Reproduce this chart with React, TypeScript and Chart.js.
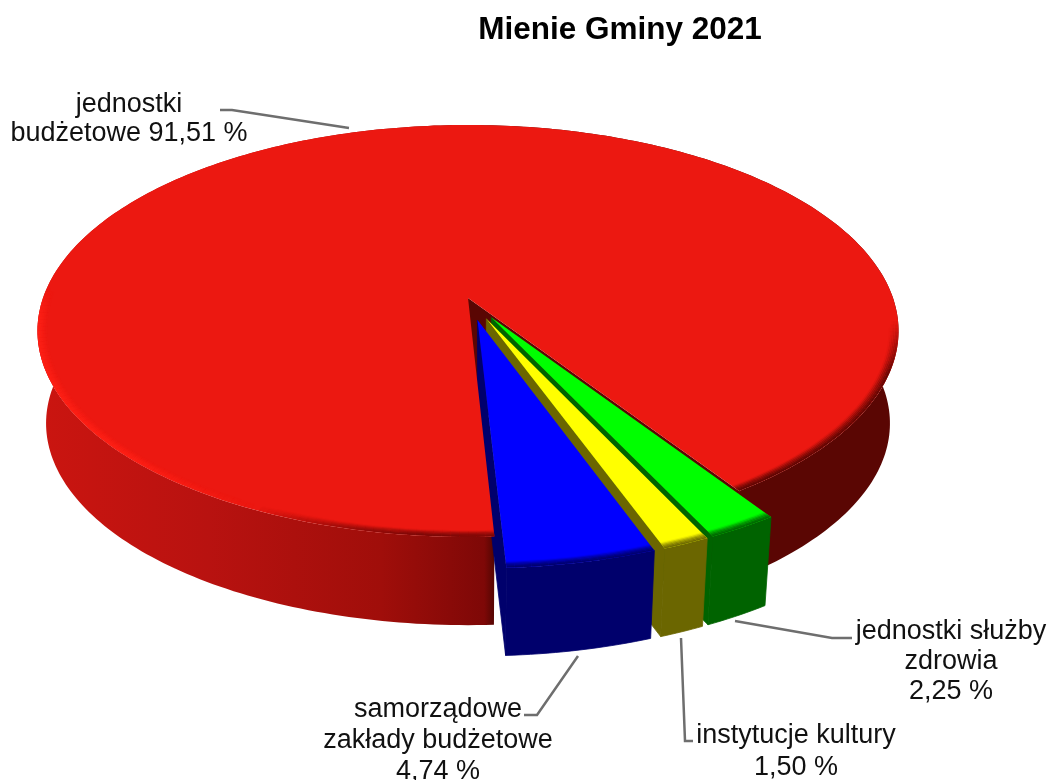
import React, { useEffect, useRef } from "react";
import { Chart, registerables } from "chart.js";

Chart.register(...registerables);

const categories = ["jednostki budżetowe", "jednostki służby zdrowia", "instytucje kultury", "samorządowe zakłady budżetowe"];
const shares = [91.51, 2.25, 1.5, 4.74];
const topColors = ["#ec1811", "#00ff00", "#ffff00", "#0000ff"];
const wallColors = ["#5a0603", "#006300", "#6b6600", "#00006c"];
const exploded = [0, 0.11, 0.11, 0.11];
const labelLines = [
  ["jednostki", "budżetowe {v}"],
  ["jednostki służby", "zdrowia", "{v}"],
  ["instytucje kultury", "{v}"],
  ["samorządowe", "zakłady budżetowe", "{v}"],
];
const title = "Mienie Gminy 2021";

const view = { cx: 468, cy: 298, A: 425, B: 200.7, k: 0.16, D: 93, s: 0.98 };

function project(u: number, v: number, level: number) {
  const w = 1 - view.k * v;
  const sc = level ? view.s : 1;
  return {
    x: view.cx + (view.A * sc * u) / w,
    y: view.cy + level * view.D + (view.B * sc * v) / w,
  };
}

function fillPoly(ctx: CanvasRenderingContext2D, pts: { x: number; y: number }[], fill: any, seal = false) {
  ctx.beginPath();
  pts.forEach((p, i) => (i ? ctx.lineTo(p.x, p.y) : ctx.moveTo(p.x, p.y)));
  ctx.closePath();
  ctx.fillStyle = fill;
  ctx.fill();
  if (seal) {
    ctx.strokeStyle = fill;
    ctx.lineWidth = 0.8;
    ctx.stroke();
  }
}

function hex(c: string) {
  return [1, 3, 5].map((i) => parseInt(c.slice(i, i + 2), 16));
}

const pie3d = {
  id: "pie3d",
  beforeDatasetsDraw(chart: any) {
    const ctx: CanvasRenderingContext2D = chart.ctx;
    const arcs = chart.getDatasetMeta(0).data;
    const slices = arcs.map((arc: any, i: number) => {
      const mid = (arc.startAngle + arc.endAngle) / 2;
      const ex = exploded[i] * Math.cos(mid);
      const ey = exploded[i] * Math.sin(mid);
      const n = Math.max(8, Math.ceil(((arc.endAngle - arc.startAngle) * 180) / Math.PI));
      const angles = Array.from({ length: n + 1 }, (_, j) => arc.startAngle + ((arc.endAngle - arc.startAngle) * j) / n);
      const rim = (r: number, level: number) =>
        angles.map((a) => project(ex + r * Math.cos(a), ey + r * Math.sin(a), level));
      return { i, ex, ey, angles, rim, apex: (level: number) => project(ex, ey, level) };
    });

    const order = [0, 1, 2, 3];
    ctx.save();
    // walls, back to front: each block's near cut face, then its outer wall
    order.forEach((i) => {
      const s = slices[i];
      const top = s.rim(1, 0);
      const bot = s.rim(1, 1);
      let outer: any = wallColors[i];
      if (i === 0) {
        const g = ctx.createLinearGradient(36, 0, 898, 0);
        g.addColorStop(0, "#cb1510");
        g.addColorStop(0.2, "#b81210");
        g.addColorStop(0.4, "#a00e0a");
        g.addColorStop(0.52, "#7e0807");
        g.addColorStop(0.53, wallColors[0]);
        g.addColorStop(1, wallColors[0]);
        outer = g;
      }
      fillPoly(ctx, [s.apex(0), top[top.length - 1], bot[bot.length - 1], s.apex(1)], wallColors[i], i !== 0);
      fillPoly(ctx, [...top, ...bot.slice().reverse()], outer, i !== 0);
    });
    // top faces with a soft bevel along the outer rim
    order.forEach((i) => {
      const s = slices[i];
      const poly = [s.apex(0), ...s.rim(1, 0)];
      fillPoly(ctx, poly, topColors[i]);
      ctx.save();
      ctx.beginPath();
      poly.forEach((p: any, j: number) => (j ? ctx.lineTo(p.x, p.y) : ctx.moveTo(p.x, p.y)));
      ctx.closePath();
      ctx.clip();
      const rings = 6;
      for (let q = 0; q < rings; q++) {
        const r = 1 - (0.022 * (q + 0.5)) / rings;
        const fade = 1 - (q + 0.5) / rings;
        const pts = s.rim(r, 0);
        for (let j = 0; j < pts.length - 1; j++) {
          const deg = (((s.angles[j] * 180) / Math.PI + 90) % 360 + 360) % 360;
          let col = hex(wallColors[i]);
          let a = fade;
          if (i === 0) {
            if (deg > 205 && deg < 272) {
              col = [255, 32, 22];
              a = fade * Math.min(1, Math.min((deg - 205) / 20, (272 - deg) / 8));
            } else if (deg >= 272 || deg < 96) {
              a = 0;
            } else if (deg <= 205 && deg > 150) {
              col = [122, 8, 7];
              a = fade * Math.min(1, (205 - deg) / 20);
            } else {
              a = fade * Math.min(1, (deg - 96) / 14);
            }
          }
          if (a <= 0.01) continue;
          ctx.beginPath();
          ctx.moveTo(pts[j].x, pts[j].y);
          ctx.lineTo(pts[j + 1].x, pts[j + 1].y);
          ctx.strokeStyle = `rgba(${col[0]},${col[1]},${col[2]},${a})`;
          ctx.lineWidth = 2;
          ctx.stroke();
        }
      }
      ctx.restore();
    });
    ctx.restore();
    return false;
  },
  afterDraw(chart: any) {
    const ctx: CanvasRenderingContext2D = chart.ctx;
    const pct = (v: number) => v.toFixed(2).replace(".", ",") + " %";
    ctx.save();
    ctx.textAlign = "center";
    ctx.textBaseline = "alphabetic";
    ctx.fillStyle = "#000";
    ctx.font = 'bold 31.5px "Liberation Sans"';
    ctx.fillText(title, 620, 39);

    ctx.strokeStyle = "#6e6e6e";
    ctx.lineWidth = 2.5;
    const leaders = [
      [[220, 110], [232, 110], [349, 128]],
      [[735, 621], [832, 638], [852, 638]],
      [[681, 638], [685, 741], [693, 741]],
      [[578, 656], [537, 715], [524, 715]],
    ];
    leaders.forEach((l) => {
      ctx.beginPath();
      l.forEach((p, i) => (i ? ctx.lineTo(p[0], p[1]) : ctx.moveTo(p[0], p[1])));
      ctx.stroke();
    });

    ctx.fillStyle = "#111";
    ctx.font = '27px "Liberation Sans"';
    const anchors = [
      { x: 129, y: 112, lh: 29 },
      { x: 951, y: 639, lh: 30 },
      { x: 796, y: 743, lh: 32 },
      { x: 438, y: 717, lh: 31 },
    ];
    labelLines.forEach((lines, i) => {
      lines.forEach((t, j) => {
        ctx.fillText(t.replace("{v}", pct(shares[i])), anchors[i].x, anchors[i].y + j * anchors[i].lh);
      });
    });
    ctx.restore();
  },
};

export default function App() {
  const ref = useRef<HTMLCanvasElement>(null);
  useEffect(() => {
    const chart = new Chart(ref.current!, {
      type: "pie",
      data: {
        labels: categories,
        datasets: [{ data: shares, backgroundColor: topColors, borderWidth: 0 }],
      },
      options: {
        animation: false,
        responsive: false,
        rotation: 177,
        plugins: { legend: { display: false }, tooltip: { enabled: false }, title: { display: false } },
      },
      plugins: [pie3d],
    } as any);
    return () => chart.destroy();
  }, []);
  return (
    <div style={{ position: "fixed", left: 0, top: 0, width: 1049, height: 780, background: "#fff" }}>
      <canvas ref={ref} width={1049} height={780} style={{ display: "block" }} />
    </div>
  );
}
